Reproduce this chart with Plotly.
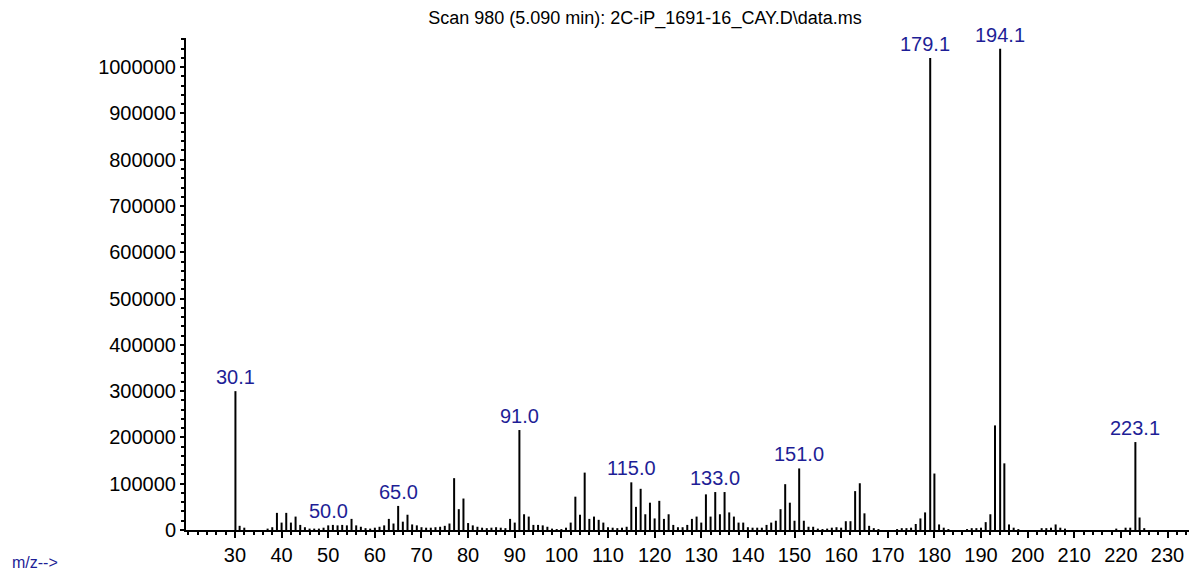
import plotly.graph_objects as go

# ---- data ----
mz = [30.1, 31, 32, 37, 38, 39, 40, 41, 42, 43, 44, 45, 46, 47, 48, 49, 50.0, 51, 52, 53, 54, 55, 56, 57, 58, 59,
      60, 61, 62, 63, 64, 65.0, 66, 67, 68, 69, 70, 71, 72, 73, 74, 75, 76, 77, 78, 79, 80, 81, 82, 83, 84, 85, 86,
      87, 88, 89, 90, 91.0, 92, 93, 94, 95, 96, 97, 98, 99, 100, 101, 102, 103, 104, 105, 106, 107, 108, 109, 110,
      111, 112, 113, 114, 115.0, 116, 117, 118, 119, 120, 121, 122, 123, 124, 125, 126, 127, 128, 129, 130, 131,
      132, 133.0, 134, 135, 136, 137, 138, 139, 140, 141, 142, 143, 144, 145, 146, 147, 148, 149, 150, 151.0, 152,
      153, 154, 155, 156, 157, 158, 159, 160, 161, 162, 163, 164, 165, 166, 167, 168, 172, 173, 174, 175, 176, 177,
      178, 179.1, 180, 181, 182, 183, 187, 188, 189, 190, 191, 192, 193, 194.1, 195, 196, 197, 198, 203, 204, 205,
      206, 207, 208, 219, 221, 222, 223.1, 224, 225]
abundance = [300000, 9000, 5000, 3000, 6000, 37000, 16000, 37000, 16000, 29000, 11000, 6000, 3000, 3000, 3000, 5000,
             10000, 11000, 10000, 11000, 10000, 24000, 10000, 7000, 4000, 3000,
             5000, 7000, 10000, 24000, 14000, 52000, 18000, 33000, 12000, 10000, 6000, 5000, 5000, 6000, 7000, 9000,
             14000, 112000, 45000, 68000, 15000, 10000, 7000, 5000, 4000, 5000, 6000,
             5000, 4000, 24000, 16000, 216000, 34000, 29000, 11000, 11000, 10000, 7000, 3000, 2000, 2000, 5000, 16000,
             72000, 33000, 124000, 24000, 29000, 22000, 16000, 6000,
             5000, 4000, 5000, 7000, 103000, 50000, 89000, 34000, 59000, 25000, 63000, 24000, 34000, 11000, 6000,
             6000, 11000, 24000, 29000, 16000, 77000,
             29000, 82000, 34000, 82000, 38000, 29000, 16000, 16000, 6000, 5000, 5000, 5000, 11000, 16000, 20000,
             45000, 99000, 59000, 20000, 133000, 20000,
             7000, 7000, 3000, 2000, 3000, 5000, 6000, 5000, 19000, 19000, 84000, 101000, 36000, 9000, 4000, 2000,
             2000, 4000, 4000, 5000, 13000, 25000,
             38000, 1020000, 122000, 12000, 5000, 2000, 2000, 4000, 4000, 5000, 17000, 34000, 226000, 1040000,
             144000, 12000, 5000, 2000, 4000, 4000, 5000,
             12000, 5000, 3000, 3000, 5000, 5000, 190000, 27000, 4000]

labelled_mz = [30.1, 50.0, 65.0, 91.0, 115.0, 133.0, 151.0, 179.1, 194.1, 223.1]
label_text = ["30.1", "50.0", "65.0", "91.0", "115.0", "133.0", "151.0", "179.1", "194.1", "223.1"]

x_ticks = [30, 40, 50, 60, 70, 80, 90, 100, 110, 120, 130, 140, 150, 160, 170, 180, 190, 200, 210, 220, 230]
y_ticks = [0, 100000, 200000, 300000, 400000, 500000, 600000, 700000, 800000, 900000, 1000000]

title_text = "Scan 980 (5.090 min): 2C-iP_1691-16_CAY.D\\data.ms"

# ---- build stems ----
xs, ys = [], []
for m, a in zip(mz, abundance):
    xs += [m, m, None]
    ys += [0, a, None]

FONT = "Liberation Sans"
LABEL_COLOR = "#1e1e96"

fig = go.Figure()
fig.add_trace(go.Scatter(x=xs, y=ys, mode="lines",
                         line=dict(color="black", width=2),
                         hoverinfo="skip", showlegend=False))

ab_map = dict(zip(mz, abundance))
for m, t in zip(labelled_mz, label_text):
    fig.add_annotation(x=m, y=ab_map[m], text=t, showarrow=False,
                       xanchor="center", yanchor="bottom", yshift=1,
                       xshift=(-5 if t == "179.1" else 0),
                       font=dict(family=FONT, size=20, color=LABEL_COLOR))

fig.add_annotation(xref="paper", yref="paper", x=-0.175, y=-0.067,
                   text="m/z-->", showarrow=False, xanchor="left", yanchor="middle",
                   font=dict(family=FONT, size=16, color=LABEL_COLOR))

fig.update_layout(
    width=1189, height=573,
    margin=dict(l=186, r=0, t=38, b=43, pad=0),
    paper_bgcolor="white", plot_bgcolor="white",
    title=dict(text=title_text, x=645 / 1189, xanchor="center", y=1 - 18 / 573, yanchor="middle",
               font=dict(family=FONT, size=18, color="black")),
    font=dict(family=FONT, size=20, color="black"),
    xaxis=dict(range=[19.5, 234.6], showgrid=False, zeroline=False,
               showline=True, linecolor="black", linewidth=2,
               tickvals=x_ticks, ticktext=[str(v) for v in x_ticks],
               ticks="outside", ticklen=6, tickwidth=1.5, tickcolor="black",
               tickfont=dict(family=FONT, size=20, color="black"),
               minor=dict(dtick=2, tick0=0, ticks="outside", ticklen=3, tickwidth=1.5, tickcolor="black")),
    yaxis=dict(range=[0, 1063000], showgrid=False, zeroline=False,
               showline=True, linecolor="black", linewidth=2,
               tickvals=y_ticks, ticktext=[str(v) for v in y_ticks],
               ticks="outside", ticklen=4, tickwidth=1.5, tickcolor="black",
               tickfont=dict(family=FONT, size=20, color="black"),
               minor=dict(dtick=20000, tick0=0, ticks="outside", ticklen=3, tickwidth=1.5, tickcolor="black")),
)

fig.write_html("out.html",
               config={"displayModeBar": False},
               post_script="document.body.style.margin='0px';document.body.style.overflow='hidden';")
